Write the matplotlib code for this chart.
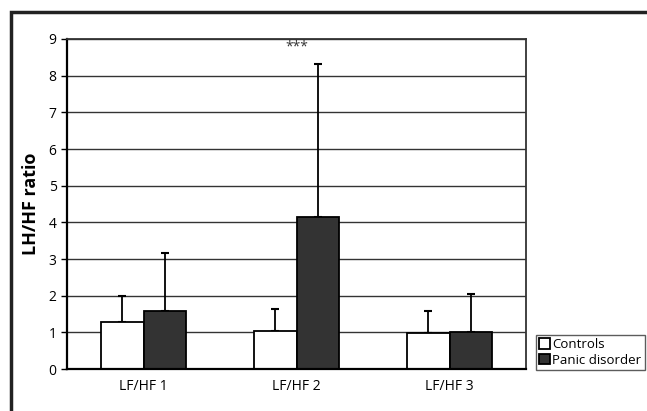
import numpy as np
import matplotlib.pyplot as plt
from matplotlib.patches import Rectangle

plt.rcParams['font.family'] = ['Open Sans', 'DejaVu Sans']

# Data
categories = ["LF/HF 1", "LF/HF 2", "LF/HF 3"]
controls = [1.27, 1.03, 0.97]
controls_err = [0.73, 0.60, 0.62]
panic = [1.58, 4.15, 1.02]
panic_err = [1.59, 4.16, 1.03]
series_names = ["Controls", "Panic disorder"]

fig = plt.figure(figsize=(6.47, 4.11), dpi=100)
W, H = 647, 411

# outer frame (right and bottom edges cropped in the original)
fig.patches.append(Rectangle((11 / W, -0.02), 1.0, 1 - 12 / H + 0.02,
                             transform=fig.transFigure, fill=False,
                             edgecolor='#222222', linewidth=2.5))

ax = fig.add_axes([67 / W, 1 - 369 / H, (526 - 67) / W, (369 - 39) / H])

x = np.arange(len(categories)) + 0.5
width = 0.28

ax.bar(x - width / 2, controls, width, color='white', edgecolor='black',
       linewidth=1.3, label=series_names[0], zorder=3)
ax.bar(x + width / 2, panic, width, color='#333333', edgecolor='black',
       linewidth=1.3, label=series_names[1], zorder=3)

# one-sided (upper) error bars
ax.errorbar(x - width / 2, controls, yerr=[np.zeros(3), controls_err],
            fmt='none', ecolor='black', elinewidth=1.3, capsize=3,
            capthick=1.5, zorder=2)
ax.errorbar(x + width / 2, panic, yerr=[np.zeros(3), panic_err],
            fmt='none', ecolor='black', elinewidth=1.3, capsize=3,
            capthick=1.5, zorder=2)

ax.set_xlim(0, 3)
ax.set_ylim(0, 9)
ax.set_yticks(range(0, 10))
ax.set_xticks(x)
ax.set_xticklabels(categories, fontsize=10)
ax.tick_params(axis='x', length=0, pad=7)
ax.tick_params(axis='y', length=4, width=1, labelsize=10, direction='out')
ax.yaxis.grid(True, color='#333333', linewidth=1.0)
ax.set_axisbelow(True)

for side in ['top', 'right']:
    ax.spines[side].set_color('#333333')
    ax.spines[side].set_linewidth(1.3)
for side in ['left', 'bottom']:
    ax.spines[side].set_linewidth(1.6)
ax.spines['bottom'].set_zorder(4)

ax.set_ylabel("LH/HF ratio", fontsize=13, fontweight='bold', labelpad=6)

ax.text(x[1], 8.78, "***", ha='center', va='center', fontsize=10,
        color='#333333')

leg = fig.legend(loc='lower left', bbox_to_anchor=(536 / W, 1 - 370 / H),
                 fontsize=9.5, frameon=True, fancybox=False,
                 handlelength=0.8, handleheight=0.8, handletextpad=0.2,
                 borderpad=0.25, labelspacing=0.2, borderaxespad=0)
leg.get_frame().set_edgecolor('#333333')
leg.get_frame().set_linewidth(1.0)

fig.savefig("out.png", dpi=100)
